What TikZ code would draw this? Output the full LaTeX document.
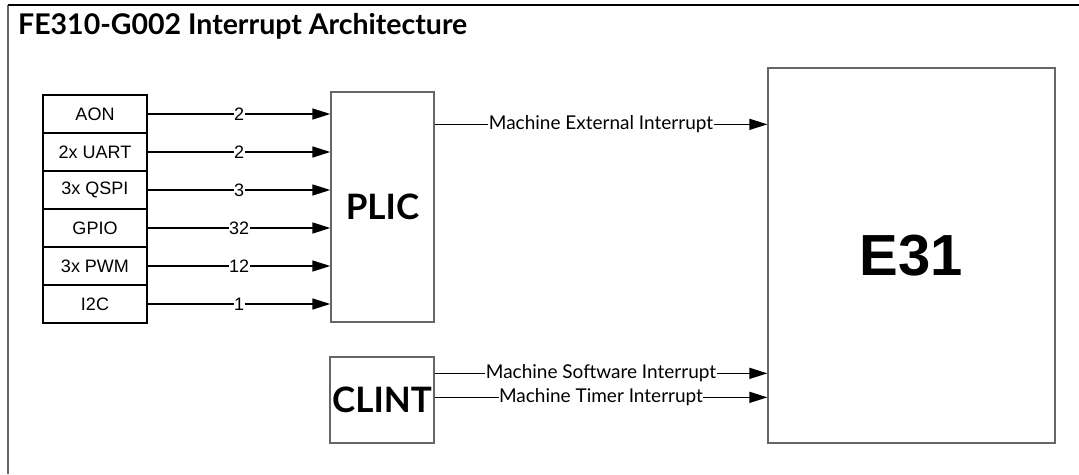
\documentclass[tikz,border=0pt]{standalone}
\usepackage{fontspec}
\setmainfont{Lato}
\newfontfamily\arialf{Liberation Sans}
\usetikzlibrary{arrows.meta}
\begin{document}
\begin{tikzpicture}[x=1pt,y=-1pt,
  src/.style={draw=black, line width=1.6pt, minimum width=104pt, minimum height=38pt, inner sep=0pt, font=\arialf\fontsize{18}{20}\selectfont},
  blk/.style={draw=black!60, line width=1.3pt, inner sep=0pt},
  conn/.style={line width=1.4pt, -{Triangle[length=18pt,width=11pt]}},
  num/.style={fill=white, inner sep=0.5pt, font=\arialf\fontsize{18}{20}\selectfont},
  lab/.style={fill=white, inner sep=0.5pt, font=\fontsize{19}{22}\selectfont},
  frame/.style={line width=1.5pt}]
\useasboundingbox (0,0) rectangle (1079,474);
% frame
\coordinate (fbl) at (8,474);
\coordinate (ftl) at (8,5);
\coordinate (ftr) at (1079,5);
\draw[frame, draw=black!60] (fbl) -- (ftl);
\draw[frame] (ftl) -- (ftr);
% title
\node[anchor=base west, inner sep=0pt, font=\bfseries\fontsize{28.5}{32}\selectfont] (title) at (18,34) {FE310-G002 Interrupt Architecture};
% sources
\node[src] (aon)  at (95,114) {AON};
\node[src] (uart) at (95,152) {2x UART};
\node[src] (qspi) at (95,190) {3x QSPI};
\node[src] (gpio) at (95,228) {GPIO};
\node[src] (pwm)  at (95,266) {3x PWM};
\node[src] (i2c)  at (95,304) {I2C};
% blocks
\node[blk, minimum width=103pt, minimum height=230pt, font=\bfseries\fontsize{35}{40}\selectfont] (plic) at (382.5,207) {PLIC};
\node[blk, minimum width=104pt, minimum height=86pt, font=\bfseries\fontsize{35}{40}\selectfont] (clint) at (382,400) {CLINT};
\node[blk, minimum width=287pt, minimum height=375pt, font=\arialf\bfseries\fontsize{58}{64}\selectfont] (e31) at (911.5,255.5) {E31};
% source arrows
\foreach \s/\n in {aon/2, uart/2, qspi/3, gpio/32, pwm/12, i2c/1}{
  \draw[conn] (\s.east) -- (\s.east -| plic.west) node[num, pos=0.5] {\n};
}
% interrupts to core
\draw[conn] ([yshift=-33pt]plic.north east) coordinate (ext) -- (ext -| e31.west) node[lab, midway] {Machine External Interrupt};
\draw[conn] ([yshift=-17pt]clint.north east) coordinate (msi) -- (msi -| e31.west) node[lab, midway] {Machine Software Interrupt};
\draw[conn] ([yshift=-41pt]clint.north east) coordinate (mti) -- (mti -| e31.west) node[lab, midway] {Machine Timer Interrupt};
\end{tikzpicture}
\end{document}
